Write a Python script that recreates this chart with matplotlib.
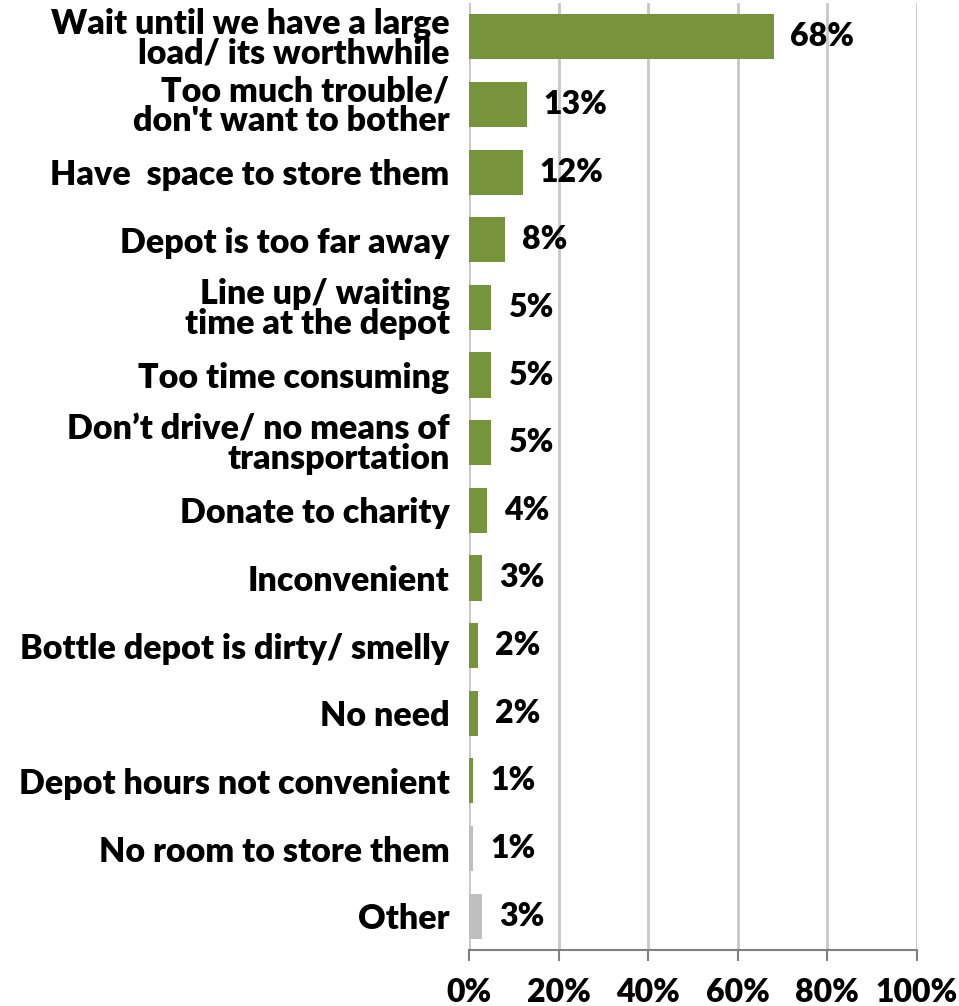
import matplotlib
matplotlib.use("Agg")
import matplotlib.pyplot as plt
from matplotlib.ticker import FuncFormatter

categories = [
    "Wait until we have a large\nload/ its worthwhile",
    "Too much trouble/\ndon't want to bother",
    "Have  space to store them",
    "Depot is too far away",
    "Line up/ waiting\ntime at the depot",
    "Too time consuming",
    "Don\u2019t drive/ no means of\ntransportation",
    "Donate to charity",
    "Inconvenient",
    "Bottle depot is dirty/ smelly",
    "No need",
    "Depot hours not convenient",
    "No room to store them",
    "Other",
]
values = [68, 13, 12, 8, 5, 5, 5, 4, 3, 2, 2, 1, 1, 3]
bar_colors = ["#77933C"] * 12 + ["#BFBFBF"] * 2
xticks = [0, 20, 40, 60, 80, 100]

FS_CAT = 24.5
FS_NUM = 23
WEIGHT = "heavy"
plt.rcParams["font.family"] = ["Lato", "DejaVu Sans"]

fig = plt.figure(figsize=(9.59, 10.06), dpi=100)
ax = fig.add_axes([469 / 959, 1 - 950 / 1006, (917 - 469) / 959, (950 - 3) / 1006])

ypos = list(range(len(categories)))
ax.barh(ypos, values, height=0.667, color=bar_colors, zorder=3)

ax.set_xlim(0, 100)
ax.set_ylim(len(categories) - 0.5, -0.5)
ax.set_xticks(xticks)
ax.xaxis.set_major_formatter(FuncFormatter(lambda v, p: f"{int(v)}%"))
ax.set_yticks(ypos)
ax.set_yticklabels(categories, fontsize=FS_CAT, fontweight=WEIGHT, linespacing=0.9)
ax.tick_params(axis="y", length=0, pad=14)
ax.tick_params(axis="x", length=8, width=1.5, color="#808080", labelsize=FS_NUM, pad=12)
for lbl in ax.get_xticklabels():
    lbl.set_fontweight(WEIGHT)

ax.grid(axis="x", color="#C8C8C8", linewidth=2, zorder=0)
ax.grid(axis="y", visible=False)
for side in ("top", "right", "left"):
    ax.spines[side].set_visible(False)
ax.spines["bottom"].set_color("#808080")
ax.spines["bottom"].set_linewidth(1.5)

for y, v in zip(ypos, values):
    ax.annotate(f"{v}%", xy=(v, y), xytext=(12, 0), textcoords="offset points",
                va="center", ha="left", fontsize=FS_NUM, fontweight=WEIGHT)

fig.savefig("out.png", dpi=100)
